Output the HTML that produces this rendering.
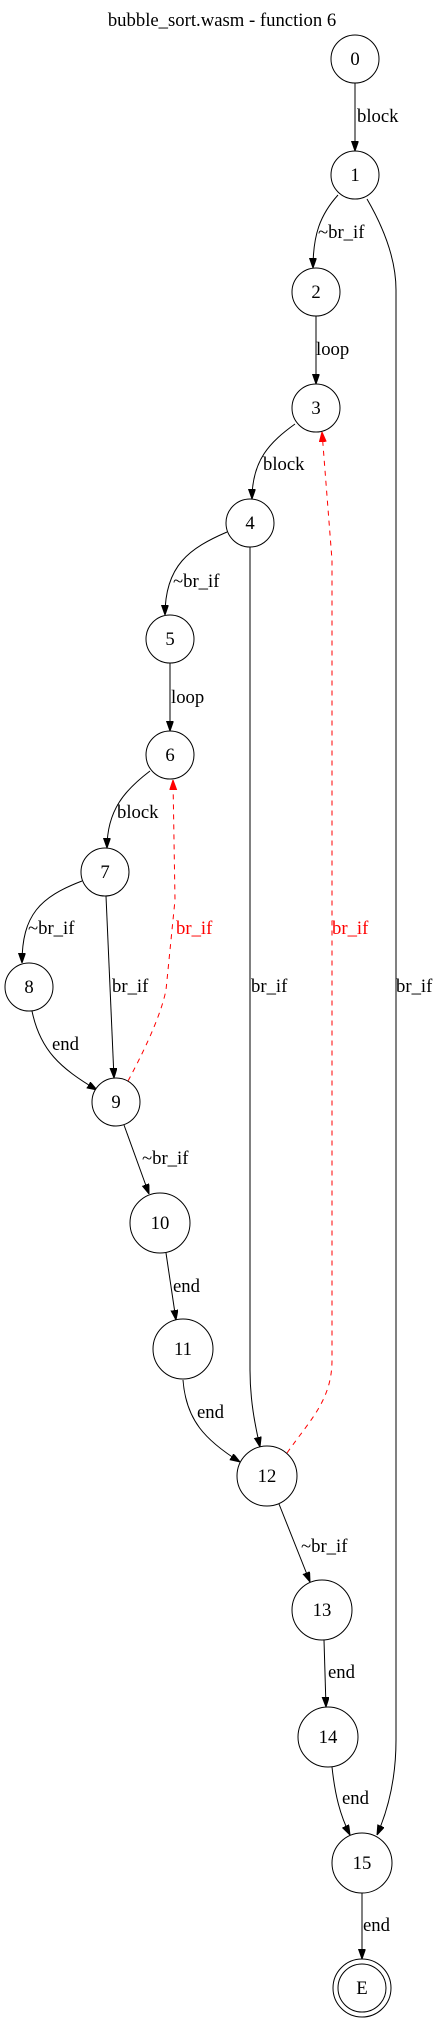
<!DOCTYPE html>
<html><head><meta charset="utf-8"><style>
html,body{margin:0;padding:0;background:#fff;}
svg{display:block;font-family:"Liberation Serif",serif;}
</style></head><body>
<svg width="445" height="2032" viewBox="0 0 445 2032">
<defs>
<marker id="ab" markerWidth="10" markerHeight="8" refX="10" refY="3.5" orient="auto" markerUnits="userSpaceOnUse"><path d="M0,0 L10,3.5 L0,7 z" fill="#000" stroke="#000"/></marker>
<marker id="ar" markerWidth="10" markerHeight="8" refX="10" refY="3.5" orient="auto" markerUnits="userSpaceOnUse"><path d="M0,0 L10,3.5 L0,7 z" fill="#f00" stroke="#f00"/></marker>
</defs>
<text x="222" y="26" font-size="18.7" text-anchor="middle">bubble_sort.wasm - function 6</text>
<g fill="none" stroke="#000" stroke-width="1" marker-end="url(#ab)">
<path d="M355,83 L355,151"/>
<path d="M338,195 C320,215 313,235 313,268"/>
<path d="M367,199 C385,230 396,260 396,290 L396,1740 C396,1780 388,1810 377,1835"/>
<path d="M316,316 L316,384"/>
<path d="M295,424 C270,442 252,460 252,499"/>
<path d="M227,532 C190,548 165,565 165,615"/>
<path d="M250,547 L250,1370 C250,1400 255,1425 260,1447"/>
<path d="M170,663 L170,731"/>
<path d="M150,771 C125,790 107,810 107,848"/>
<path d="M82,881 C40,897 22,915 22,963"/>
<path d="M106,896 L114,1078"/>
<path d="M32,1011 C40,1050 60,1068 97,1090"/>
<path d="M124,1125 L149,1194"/>
<path d="M166,1253 L176,1320"/>
<path d="M183,1380 C186,1420 205,1440 240,1462"/>
<path d="M279,1504 L310,1582"/>
<path d="M324,1640 L326,1707"/>
<path d="M332,1767 C335,1795 340,1815 350,1835"/>
<path d="M362,1893 L362,1959"/>
</g>
<g fill="none" stroke="#f00" stroke-width="1" stroke-dasharray="5,5" marker-end="url(#ar)">
<path d="M128,1081 C150,1040 162,1010 166,990 L175,900 L173,780"/>
<path d="M287,1453 C310,1420 332,1400 332,1360 L332,560 L322,432"/>
</g>
<g fill="#fff" stroke="#000" stroke-width="1">
<circle cx="355" cy="59" r="24"/>
<circle cx="355" cy="175" r="24"/>
<circle cx="316" cy="292" r="24"/>
<circle cx="316" cy="408" r="24"/>
<circle cx="250" cy="523" r="24"/>
<circle cx="170" cy="639" r="24"/>
<circle cx="170" cy="755" r="24"/>
<circle cx="105" cy="872" r="24"/>
<circle cx="29" cy="987" r="24"/>
<circle cx="116" cy="1102" r="24"/>
<circle cx="160" cy="1223" r="30"/>
<circle cx="183" cy="1349" r="30"/>
<circle cx="267" cy="1476" r="30"/>
<circle cx="322" cy="1610" r="30"/>
<circle cx="328" cy="1737" r="30"/>
<circle cx="362" cy="1863" r="30"/>
<circle cx="362" cy="1988" r="29"/>
<circle cx="362" cy="1988" r="24"/>
</g>
<g font-size="18.7" text-anchor="middle">
<text x="355" y="65">0</text>
<text x="355" y="181">1</text>
<text x="316" y="298">2</text>
<text x="316" y="414">3</text>
<text x="250" y="529">4</text>
<text x="170" y="645">5</text>
<text x="170" y="761">6</text>
<text x="105" y="878">7</text>
<text x="29" y="993">8</text>
<text x="116" y="1108">9</text>
<text x="160" y="1229">10</text>
<text x="183" y="1355">11</text>
<text x="267" y="1482">12</text>
<text x="322" y="1616">13</text>
<text x="328" y="1743">14</text>
<text x="362" y="1869">15</text>
<text x="362" y="1994">E</text>
</g>
<g font-size="18.7">
<text x="357" y="122">block</text>
<text x="318" y="238">~br_if</text>
<text x="316" y="355">loop</text>
<text x="263" y="470">block</text>
<text x="173" y="587">~br_if</text>
<text x="171" y="703">loop</text>
<text x="117" y="818">block</text>
<text x="28" y="934">~br_if</text>
<text x="176" y="934" fill="#f00">br_if</text>
<text x="332" y="934" fill="#f00">br_if</text>
<text x="112" y="992">br_if</text>
<text x="251" y="992">br_if</text>
<text x="396" y="992">br_if</text>
<text x="52" y="1050">end</text>
<text x="142" y="1164">~br_if</text>
<text x="173" y="1292">end</text>
<text x="197" y="1418">end</text>
<text x="301" y="1552">~br_if</text>
<text x="328" y="1678">end</text>
<text x="342" y="1804">end</text>
<text x="363" y="1931">end</text>
</g>
</svg>
</body></html>
